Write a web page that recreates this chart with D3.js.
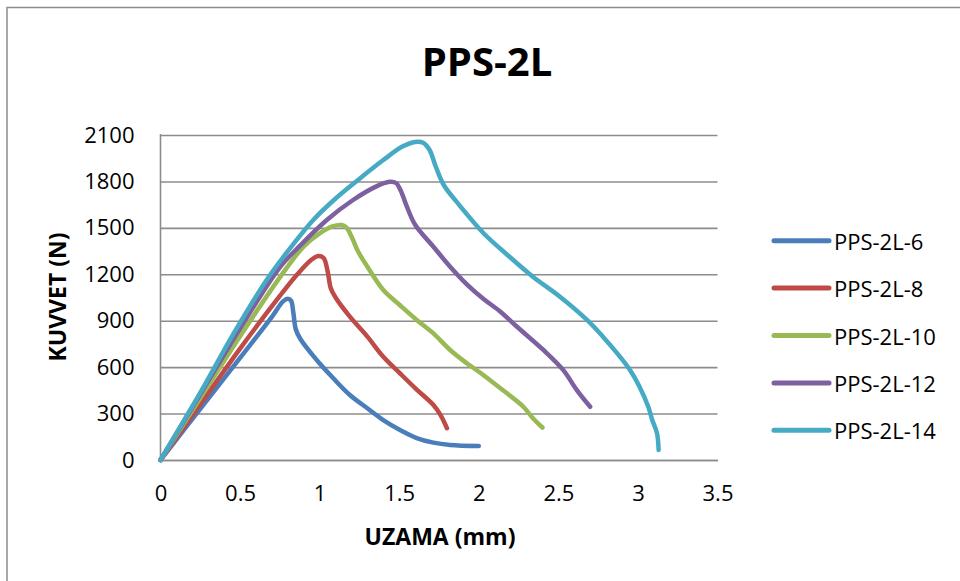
<!DOCTYPE html>
<html>
<head>
<meta charset="utf-8">
<script src="https://cdn.jsdelivr.net/npm/d3@7"></script>
<style>
  html, body { margin: 0; padding: 0; background: #fff; }
  svg { display: block; }
  text { font-family: "Open Sans", Lato, "Liberation Sans", sans-serif; fill: #000; }
</style>
</head>
<body>
<svg id="chart" width="960" height="581"></svg>
<script>
// Force–elongation curves (UZAMA in mm, KUVVET in N)
const seriesNames = ["PPS-2L-6", "PPS-2L-8", "PPS-2L-10", "PPS-2L-12", "PPS-2L-14"];
const seriesColors = ["#4A7EBB", "#BE4B48", "#98B954", "#7D60A0", "#46AAC5"];

const pps6 = [[0,0],[0.25,330],[0.5,660],[0.7,925],[0.77,1025],[0.80,1042],[0.82,1030],[0.835,950],[0.85,845],[0.88,780],[0.98,648],[1.086,528],[1.19,420],[1.30,334],[1.40,258],[1.505,194],[1.61,142],[1.715,112],[1.82,97],[2.0,90]];
const pps8 = [[0,0],[0.25,360],[0.5,720],[0.75,1060],[0.86,1200],[0.95,1295],[0.99,1318],[1.025,1305],[1.05,1220],[1.07,1110],[1.10,1050],[1.19,926],[1.30,797],[1.40,667],[1.505,560],[1.61,455],[1.715,355],[1.76,290],[1.80,205]];
const pps10 = [[0,0],[0.25,400],[0.5,800],[0.75,1180],[0.9,1380],[1.0,1465],[1.08,1510],[1.14,1518],[1.17,1500],[1.21,1421],[1.24,1350],[1.30,1249],[1.40,1098],[1.505,1000],[1.61,905],[1.715,818],[1.82,711],[1.925,625],[2.03,548],[2.134,465],[2.28,344],[2.34,270],[2.40,210]];
const pps12 = [[0,0],[0.25,425],[0.5,850],[0.75,1245],[0.877,1385],[1.045,1551],[1.21,1680],[1.35,1765],[1.44,1798],[1.48,1790],[1.51,1740],[1.547,1640],[1.60,1520],[1.715,1378],[1.82,1249],[1.925,1135],[2.03,1040],[2.134,960],[2.24,861],[2.406,711],[2.53,582],[2.616,452],[2.70,344]];
const pps14 = [[0,0],[0.25,435],[0.46,818],[0.667,1163],[0.79,1336],[0.96,1551],[1.09,1680],[1.23,1800],[1.40,1938],[1.52,2025],[1.60,2055],[1.65,2050],[1.69,2005],[1.73,1895],[1.78,1777],[1.86,1669],[2.03,1465],[2.18,1325],[2.34,1184],[2.51,1055],[2.68,905],[2.78,797],[2.87,689],[2.95,582],[3.01,474],[3.065,344],[3.09,258],[3.12,172],[3.13,65]];
const seriesData = [pps6, pps8, pps10, pps12, pps14];

const xTicks = [0, 0.5, 1, 1.5, 2, 2.5, 3, 3.5];
const yTicks = [0, 300, 600, 900, 1200, 1500, 1800, 2100];

const chartTitle = "PPS-2L";
const xTitle = "UZAMA (mm)";
const yTitle = "KUVVET (N)";

const svg = d3.select("#chart");

// chart frame (open to the right and bottom)
svg.append("rect")
  .attr("x", 7).attr("y", 7.5)
  .attr("width", 1000).attr("height", 600)
  .attr("fill", "none").attr("stroke", "#8c8c8c").attr("stroke-width", 1.5);

const x = d3.scaleLinear().domain([0, 3.5]).range([160.5, 717.5]);
const y = d3.scaleLinear().domain([0, 2100]).range([460, 135]);

// horizontal gridlines with value labels
const yAxis = d3.axisLeft(y).tickValues(yTicks).tickSize(-(x(3.5) - x(0))).tickPadding(26).tickFormat(d3.format("d"));
const gy = svg.append("g").attr("transform", `translate(${x(0)},0)`).call(yAxis);
gy.select(".domain").remove();
gy.selectAll(".tick line").attr("stroke", "#8c8c8c").attr("stroke-width", 1.6);
gy.selectAll(".tick text").attr("font-size", 22).attr("fill", "#000");

// vertical axis line
svg.append("line").attr("x1", x(0)).attr("x2", x(0)).attr("y1", y(2100) - 1).attr("y2", y(0))
  .attr("stroke", "#8c8c8c").attr("stroke-width", 1.6);

const xAxis = d3.axisBottom(x).tickValues(xTicks).tickSize(0).tickPadding(25).tickFormat(d => String(d));
const gx = svg.append("g").attr("transform", `translate(0,${y(0)})`).call(xAxis);
gx.select(".domain").attr("stroke", "#8c8c8c").attr("stroke-width", 1.6);
gx.selectAll(".tick text").attr("font-size", 22).attr("fill", "#000");

// series
const line = d3.line()
  .x(d => x(d[0]))
  .y(d => y(d[1]))
  .curve(d3.curveCatmullRom.alpha(0.5));

svg.append("g").selectAll("path")
  .data(seriesData)
  .join("path")
  .attr("d", line)
  .attr("fill", "none")
  .attr("stroke", (d, i) => seriesColors[i])
  .attr("stroke-width", 4.5)
  .attr("stroke-linecap", "round")
  .attr("stroke-linejoin", "round");

// titles
svg.append("text").attr("x", 487).attr("y", 60)
  .attr("text-anchor", "middle").attr("dominant-baseline", "central")
  .attr("font-size", 40).attr("font-weight", "bold").text(chartTitle);

svg.append("text").attr("x", 440).attr("y", 536)
  .attr("text-anchor", "middle").attr("dominant-baseline", "central")
  .attr("font-size", 23).attr("font-weight", "bold").text(xTitle);

svg.append("text").attr("transform", "translate(57,297) rotate(-90)")
  .attr("text-anchor", "middle").attr("dominant-baseline", "central")
  .attr("font-size", 23).attr("font-weight", "bold").text(yTitle);

// legend
const legend = svg.append("g").selectAll("g")
  .data(seriesNames)
  .join("g")
  .attr("transform", (d, i) => `translate(774,${240.7 + i * 47.4})`);
legend.append("line").attr("x1", 0).attr("x2", 55)
  .attr("stroke", (d, i) => seriesColors[i]).attr("stroke-width", 5).attr("stroke-linecap", "round");
legend.append("text").attr("x", 60).attr("y", 0).attr("dominant-baseline", "central")
  .attr("font-size", 22).text(d => d);
</script>
</body>
</html>
